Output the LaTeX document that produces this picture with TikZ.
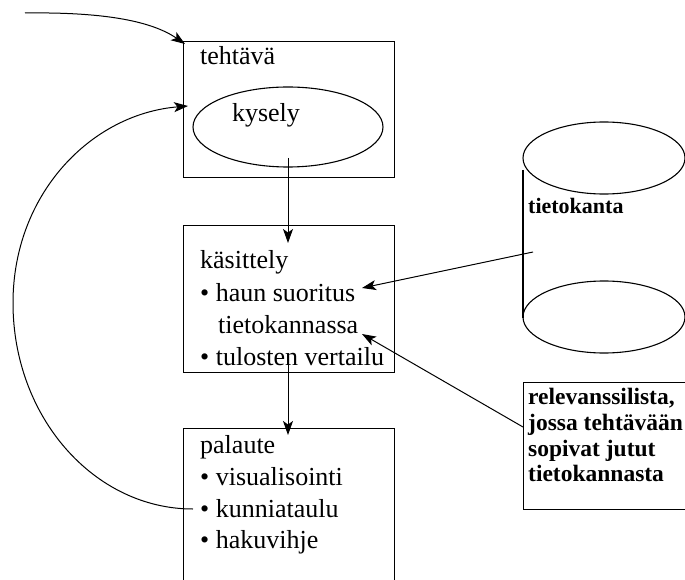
\documentclass[tikz,border=0pt]{standalone}
\usepackage{fontspec}
\setmainfont{Liberation Serif}
\usetikzlibrary{arrows.meta,shapes.geometric}
\begin{document}
\begin{tikzpicture}[x=1pt,y=-1pt,
  box/.style={draw, line width=1.1pt, rectangle, inner sep=0pt, anchor=north west},
  reg/.style={font=\fontsize{26}{32}\selectfont, inner sep=0pt, anchor=base west},
  bld/.style={font=\fontsize{22}{26}\selectfont\bfseries, inner sep=0pt, anchor=base west},
  bldb/.style={font=\fontsize{23.5}{26}\selectfont\bfseries, inner sep=0pt, anchor=base west},
  arr/.style={line width=1pt, -{Stealth[length=14pt,width=10pt,inset=3.5pt]}},
  ln/.style={line width=1.1pt}]
\useasboundingbox (0,0) rectangle (685,580);
\clip (0,0) rectangle (685,580);

% tehtava box
\node[box, minimum width=211pt, minimum height=136pt] (teht) at (183,41) {};
\node[reg] (tehtT) at (200,65) {tehtävä};
\node[draw, ellipse, line width=1.1pt, minimum width=190pt, minimum height=80pt, inner sep=0pt] (kys) at (288,127) {};
\node[reg, anchor=base] (kysT) at (266,122) {kysely};

% kasittely box
\node[box, minimum width=211pt, minimum height=147pt] (kas) at (183,225) {};
\node[reg] (k1) at (200,268) {käsittely};
\node[reg] (k2) at (200,301) {• haun suoritus};
\node[reg] (k3) at (218,333) {tietokannassa};
\node[reg] (k4) at (200,365) {• tulosten vertailu};

% palaute box
\node[box, minimum width=211pt, minimum height=170pt] (pal) at (183,428) {};
\node[reg] (p1) at (200,453) {palaute};
\node[reg] (p2) at (200,485) {• visualisointi};
\node[reg] (p3) at (200,517) {• kunniataulu};
\node[reg] (p4) at (200,548) {• hakuvihje};

% database cylinder
\draw[ln] (604,158) ellipse [x radius=81, y radius=36];
\draw[ln] (604,317) ellipse [x radius=81, y radius=36];
\draw[ln] (523,170) -- (523,318);
\node[bld] (dbT) at (528,214) {tietokanta};

% relevance box
\node[box, minimum width=170pt, minimum height=127pt] (rel) at (523,382) {};
\node[bldb] (r1) at (528,404) {relevanssilista,};
\node[bldb] (r2) at (528,430) {jossa tehtävään};
\node[bldb] (r3) at (528,456) {sopivat jutut};
\node[bldb] (r4) at (528,481) {tietokannasta};

% connector endpoints
\coordinate (inS) at (25,13);
\coordinate (inE) at (185,44);
\coordinate (kysS) at (288,158);
\coordinate (kasE) at (288,243);
\coordinate (kasS) at (288,356);
\coordinate (palE) at (288,435);
\coordinate (dbS) at (533,252);
\coordinate (k2E) at (362,288);
\coordinate (relS) at (523,427);
\coordinate (k3E) at (362,334);
\coordinate (fbS) at (193,509);
\coordinate (fbM) at (13,303);
\coordinate (fbE) at (188,106);

% connectors
\draw[arr] (inS) .. controls (100,12) and (150,20) .. (inE);
\draw[arr] (kysS) -- (kasE);
\draw[arr] (kasS) -- (palE);
\draw[arr] (dbS) -- (k2E);
\draw[arr] (relS) -- (k3E);
\draw[arr] (fbS) .. controls (94,509) and (13,417) .. (fbM) .. controls (13,194) and (91,114) .. (fbE);
\end{tikzpicture}
\end{document}
